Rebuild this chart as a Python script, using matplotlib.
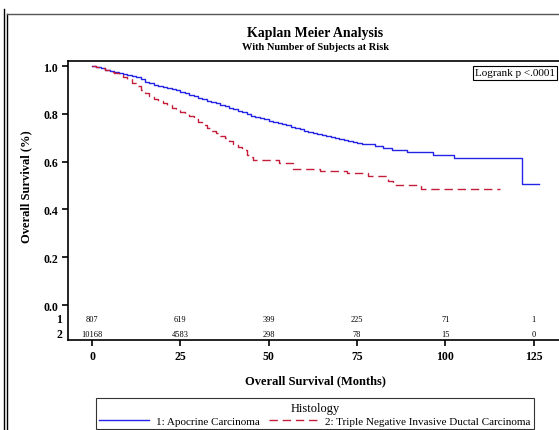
import matplotlib
matplotlib.use("Agg")
import matplotlib.pyplot as plt
from matplotlib.lines import Line2D

plt.rcParams['font.family'] = ['Liberation Serif', 'DejaVu Serif']

# Survival curves (months, survival probability) - step functions
apo_t = [0, 1.2, 2.5, 3.8, 5, 6.2, 7.5, 8.8, 10, 11.2, 12.5, 13.8, 15, 16.2, 17.5, 18.8, 20, 21.2, 22.5, 23.8,
         25, 26.2, 27.5, 28.8, 30, 31.2, 32.5, 33.8, 35, 36.2, 37.5, 38.8, 40, 41.2, 42.5, 43.8, 45, 46.2,
         47.5, 48.8, 50, 51.2, 52.5, 53.8, 55, 56.2, 57.5, 58.8, 60, 61.2, 62.5, 63.8, 65, 66.2, 67.5, 68.8,
         70, 71.2, 72.5, 73.8, 75, 76.5, 78, 80, 82.4, 85, 89, 96.6, 102.3, 121.6, 126.6]
apo_s = [1.0, 0.995, 0.99, 0.984, 0.978, 0.974, 0.97, 0.966, 0.962, 0.958, 0.952, 0.944, 0.935, 0.927, 0.92, 0.916,
         0.912, 0.907, 0.902, 0.898, 0.893, 0.887, 0.88, 0.873, 0.866, 0.86, 0.855, 0.85, 0.845, 0.839, 0.833,
         0.826, 0.82, 0.813, 0.806, 0.798, 0.79, 0.786, 0.782, 0.777, 0.772, 0.766, 0.76, 0.756, 0.752, 0.747,
         0.742, 0.736, 0.73, 0.725, 0.72, 0.716, 0.712, 0.708, 0.703, 0.698, 0.694, 0.69, 0.685, 0.682, 0.678,
         0.675, 0.672, 0.667, 0.656, 0.648, 0.641, 0.629, 0.615, 0.506, 0.506]

tn_t = [0, 1.2, 2.5, 3.8, 5, 6.2, 7.5, 8.8, 10, 11.2, 12.5, 13.8, 15, 16.2, 17.5, 18.8, 20, 21.2, 22.5, 23.8,
        25, 26.2, 27.5, 28.8, 30, 31.2, 32.5, 33.8, 35, 36.2, 37.5, 38.8, 40, 41.2, 42.5, 43.8, 44.7,
        45.6, 53, 57, 64.6, 72.2, 78, 83.7, 85.2, 93, 115.5]
tn_s = [1.0, 0.996, 0.99, 0.983, 0.976, 0.969, 0.962, 0.954, 0.945, 0.93, 0.915, 0.901, 0.888, 0.875, 0.862, 0.853,
        0.845, 0.835, 0.826, 0.817, 0.809, 0.8, 0.79, 0.778, 0.765, 0.752, 0.742, 0.73, 0.72, 0.709, 0.698,
        0.686, 0.672, 0.66, 0.648, 0.628, 0.618, 0.608, 0.593, 0.569, 0.559, 0.552, 0.541, 0.52, 0.502, 0.485, 0.485]

risk_times = [0, 25, 50, 75, 100, 125]
risk_apo = [807, 619, 399, 225, 71, 1]
risk_tn = [10168, 4583, 298, 78, 15, 0]

legend_labels = ["1: Apocrine Carcinoma", "2: Triple Negative Invasive Ductal Carcinoma"]
xticks = [0, 25, 50, 75, 100, 125]
yticks = [0.0, 0.2, 0.4, 0.6, 0.8, 1.0]

W, H = 559, 431
fig = plt.figure(figsize=(W / 100, H / 100), dpi=100)
L, R, T, B = 68, 562, 62, 341
ax = fig.add_axes([L / W, 1 - B / H, (R - L) / W, (B - T) / H])
ax.set_xlim(-6.8, 133)
ax.set_ylim(-0.146, 1.021)

blue = '#2424E6'
red = '#C41E3A'
ax.step(apo_t, apo_s, where='post', color=blue, lw=1.0)
ax.step(tn_t, tn_s, where='post', color=red, lw=1.0, dashes=(6, 3.5))

ax.spines['right'].set_visible(False)
for s in ['left', 'bottom', 'top']:
    ax.spines[s].set_linewidth(1.2)
ax.set_xticks(xticks)
ax.set_yticks(yticks)
ax.set_yticklabels([f"{v:.1f}" for v in yticks])
ax.tick_params(axis='both', direction='out', length=4, width=1.2, labelsize=8.5, pad=3)
for lab in ax.get_xticklabels() + ax.get_yticklabels():
    lab.set_fontweight('bold')

ax.set_xlabel("Overall Survival (Months)", fontsize=9, fontweight='bold', labelpad=9)
ax.text((26 - L) / (R - L), 0.5, "Overall Survival (%)", transform=ax.get_yaxis_transform(), rotation=90,
        fontsize=9, fontweight='bold', ha='center', va='center')

# at-risk table
yr1 = -(320 - 306) / 239.0
yr2 = -(335 - 306) / 239.0
for t, a, b in zip(risk_times, risk_apo, risk_tn):
    ax.text(t, yr1, str(a), ha='center', va='center', fontsize=6)
    ax.text(t, yr2, str(b), ha='center', va='center', fontsize=6)
ax.text(-0.012, yr1, "1", transform=ax.get_yaxis_transform(), ha='right', va='center', fontsize=8.5, fontweight='bold')
ax.text(-0.012, yr2, "2", transform=ax.get_yaxis_transform(), ha='right', va='center', fontsize=8.5, fontweight='bold')

# logrank box
ax.text(555 / W, 1 - 74 / H, "Logrank p <.0001", transform=fig.transFigure, ha='right', va='center',
        fontsize=8, bbox=dict(boxstyle='square,pad=0.2', fc='white', ec='black', lw=0.8))

# titles
fig.text(315 / W, 1 - 34 / H, "Kaplan Meier Analysis", ha='center', va='center', fontsize=10, fontweight='bold')
fig.text(315 / W, 1 - 48 / H, "With Number of Subjects at Risk", ha='center', va='center', fontsize=7.5, fontweight='bold')

# legend
handles = [Line2D([], [], color=blue, lw=1.0), Line2D([], [], color=red, lw=1.0, dashes=(6, 3.5))]
leg = fig.legend(handles, legend_labels, ncol=2, loc='lower center', bbox_to_anchor=(315 / W, 1 - 430 / H),
                 title="Histology", fontsize=8, title_fontsize=9, frameon=True, fancybox=False,
                 edgecolor='black', handlelength=4.5, columnspacing=0.8, handletextpad=0.6,
                 borderpad=0.3, labelspacing=0.2, borderaxespad=0)
leg.get_frame().set_linewidth(0.8)

# outer frame lines
fig.add_artist(Line2D([4 / W, 4 / W], [0, 1 - 10 / H], transform=fig.transFigure, color='black', lw=1.0))
fig.add_artist(Line2D([6.5 / W, 6.5 / W], [0, 1 - 15 / H], transform=fig.transFigure, color='black', lw=1.0))
fig.add_artist(Line2D([6.5 / W, 1], [1 - 15 / H, 1 - 15 / H], transform=fig.transFigure, color='#555555', lw=1.0))

fig.savefig("out.png", dpi=100)
